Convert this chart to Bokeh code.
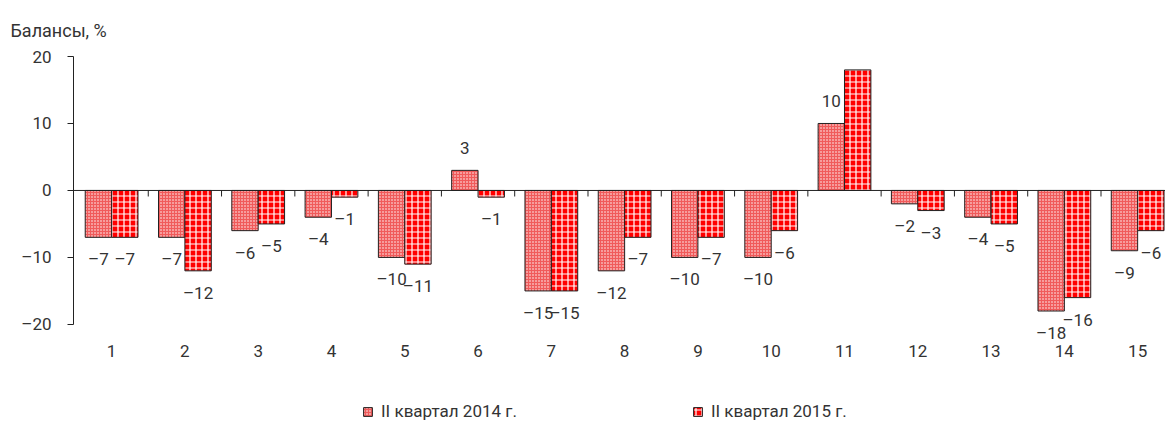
from bokeh.plotting import figure
from bokeh.layouts import column
from bokeh.models import ColumnDataSource, Span, Legend, LegendItem, Title, FixedTicker
from bokeh.core.properties import value
from bokeh.embed import file_html
from bokeh.resources import INLINE

categories = [str(i) for i in range(1, 16)]
q2_2014 = [-7, -7, -6, -4, -10, 3, -15, -12, -10, -10, 10, -2, -4, -18, -9]
q2_2015 = [-7, -12, -5, -1, -11, -1, -15, -7, -7, -6, 18, -3, -5, -16, -6]
series_names = ["II квартал 2014 г.", "II квартал 2015 г."]
y_ticks = [-20, -10, 0, 10, 20]

FONT = "Roboto"
TXT = "#333333"
BW = 0.36

STYLE14 = dict(fill_color="#F05A5A", line_color="#222222", line_width=1,
               hatch_pattern="dot", hatch_color="white", hatch_scale=3, hatch_weight=1)
STYLE15 = dict(fill_color="#FF0000", line_color="#222222", line_width=1,
               hatch_pattern="cross", hatch_color="white", hatch_scale=6, hatch_weight=1.2)

def fmt(v):
    return ("\u2013" + str(abs(v))) if v < 0 else str(v)

xs = list(range(1, len(categories) + 1))
x14 = [x - BW / 2 for x in xs]
x15 = [x + BW / 2 for x in xs]

s14 = ColumnDataSource(dict(x=x14, top=q2_2014, lab=[fmt(v) for v in q2_2014],
                            off=[22 if v < 0 else -22 for v in q2_2014]))
s15 = ColumnDataSource(dict(x=x15, top=q2_2015, lab=[fmt(v) for v in q2_2015],
                            off=[22 if v < 0 else -22 for v in q2_2015]))

p = figure(width=1165, height=380, x_range=(0.48, 15.38), y_range=(-22.7, 20),
           output_backend="svg", toolbar_location=None,
           min_border_left=73, min_border_right=0, min_border_top=56, min_border_bottom=38)
p.outline_line_color = None
p.xgrid.visible = False
p.ygrid.visible = False

p.vbar(x="x", top="top", bottom=0, width=BW, source=s14, **STYLE14)
p.vbar(x="x", top="top", bottom=0, width=BW, source=s15, **STYLE15)

# zero line and category separator ticks
p.add_layout(Span(location=0, dimension="width", line_color="#222222", line_width=1))
seps = [x + 0.5 for x in xs]
p.segment(x0=seps, x1=seps, y0=[0] * len(seps), y1=[-0.9] * len(seps),
          line_color="#222222", line_width=1)

for s in (s14, s15):
    p.text(x="x", y="top", text="lab", y_offset="off", source=s,
           text_align="center", text_baseline="middle", text_font=value(FONT),
           text_font_size="17px", text_color=TXT)

# axes
p.yaxis.ticker = FixedTicker(ticks=y_ticks)
p.yaxis.bounds = (min(y_ticks), max(y_ticks))
p.yaxis.major_label_overrides = {t: fmt(t) for t in y_ticks}
p.yaxis.major_label_text_font = FONT
p.yaxis.major_label_text_font_size = "17px"
p.yaxis.major_label_text_color = TXT
p.yaxis.axis_line_color = "#222222"
p.yaxis.major_tick_line_color = "#222222"
p.yaxis.major_tick_out = 6
p.yaxis.major_tick_in = 0
p.yaxis.minor_tick_line_color = None
p.yaxis.major_label_standoff = 16

p.xaxis.ticker = FixedTicker(ticks=xs)
p.xaxis.major_label_overrides = {x: c for x, c in zip(xs, categories)}
p.xaxis.axis_line_color = None
p.xaxis.major_tick_line_color = None
p.xaxis.minor_tick_line_color = None
p.xaxis.major_tick_out = 0
p.xaxis.major_tick_in = 0
p.xaxis.major_label_text_font = FONT
p.xaxis.major_label_text_font_size = "17px"
p.xaxis.major_label_text_color = TXT
p.xaxis.major_label_standoff = 2

t = Title(text="Балансы, %", align="left", offset=-63, text_font=FONT,
          text_font_size="18px", text_color=TXT, text_font_style="normal",
          standoff=27, vertical_align="top")
p.add_layout(t, "above")

# legend strip (reuses the series sources; the bars fall outside this strip's range)
pl = figure(width=1165, height=47, x_range=(100, 101), y_range=(100, 101),
            output_backend="svg", toolbar_location=None,
            x_axis_type=None, y_axis_type=None,
            min_border_left=0, min_border_right=0, min_border_top=0, min_border_bottom=0)
pl.outline_line_color = None
pl.xgrid.visible = False
pl.ygrid.visible = False
l14 = pl.vbar(x="x", top="top", bottom=0, width=BW, source=s14, **STYLE14)
l15 = pl.vbar(x="x", top="top", bottom=0, width=BW, source=s15, **STYLE15)
legend = Legend(items=[LegendItem(label=series_names[0], renderers=[l14]),
                       LegendItem(label=series_names[1], renderers=[l15])],
                orientation="horizontal", location=(289, 6),
                label_text_font=FONT, label_text_font_size="17px", label_text_color=TXT,
                glyph_width=11, glyph_height=11, spacing=175, border_line_color=None,
                background_fill_alpha=0, margin=0, padding=0, label_standoff=8)
pl.add_layout(legend, "center")

layout = column(p, pl, spacing=0)
open("out.html", "w").write(file_html(layout, INLINE))
